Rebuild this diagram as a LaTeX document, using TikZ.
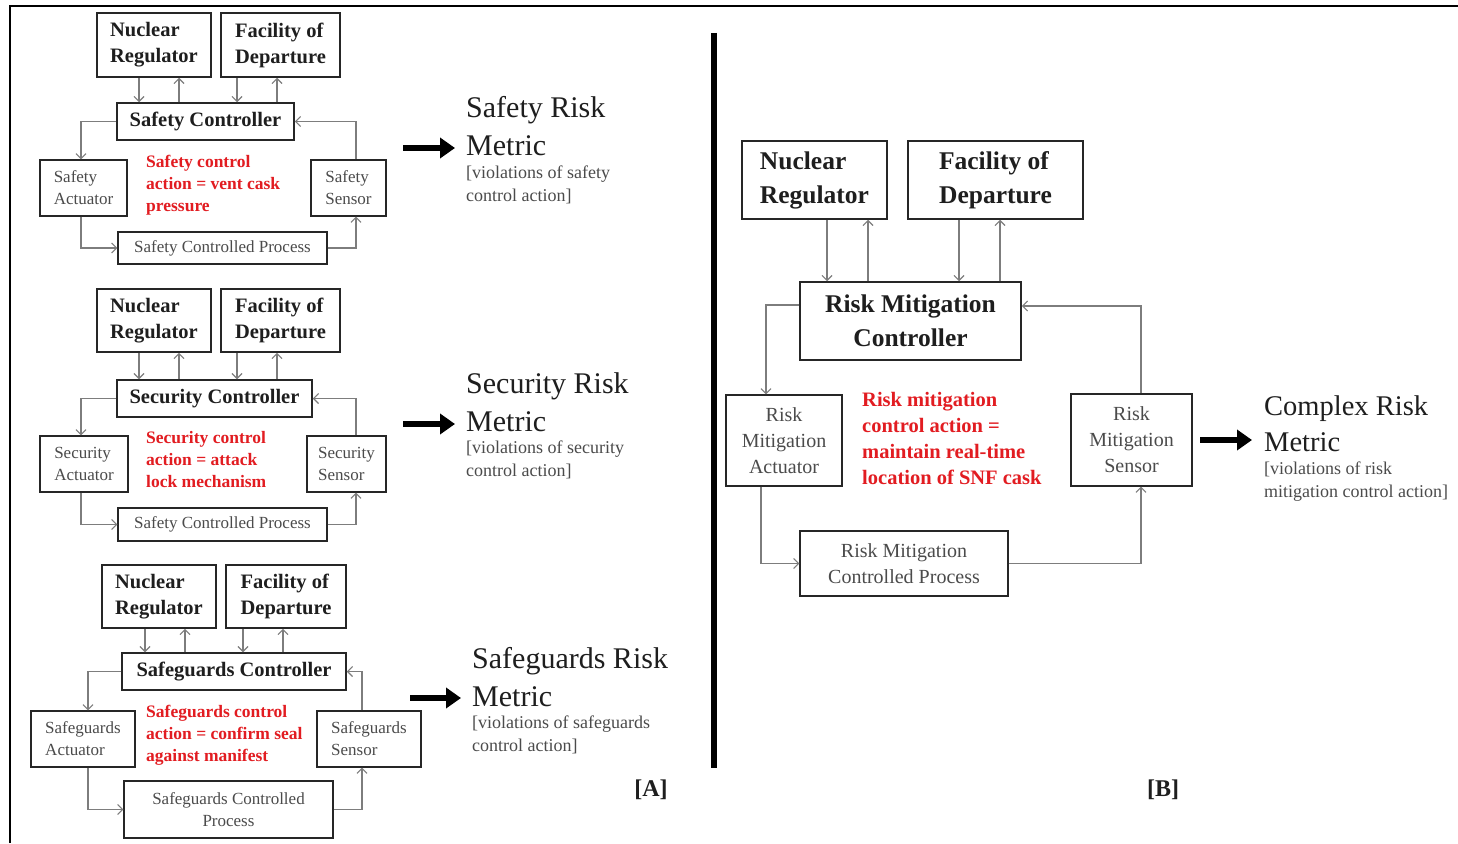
\documentclass[tikz,border=0pt]{standalone}
\usepackage{fontspec}
\setmainfont{Liberation Serif}
\usetikzlibrary{arrows.meta}
\definecolor{redtxt}{RGB}{226,28,33}
\definecolor{conngray}{RGB}{125,125,125}
\definecolor{txtgray}{RGB}{75,75,75}
\definecolor{txtdark}{RGB}{30,30,30}
\begin{document}
\begin{tikzpicture}[x=1pt,y=-1pt,
  box/.style={draw=black!85, line width=1.5pt, inner sep=0pt, align=center, text=txtdark},
  topA/.style={box, align=left, font=\bfseries\fontsize{20.5}{26}\selectfont},
  ctrlA/.style={box, font=\bfseries\fontsize{20.5}{26}\selectfont},
  smallA/.style={box, font=\fontsize{17}{22}\selectfont, text=txtgray, line width=1.3pt},
  topB/.style={box, font=\bfseries\fontsize{25.5}{34}\selectfont},
  smallB/.style={box, font=\fontsize{20}{26}\selectfont, text=txtgray, line width=1.3pt},
  redA/.style={inner sep=0pt, anchor=west, align=left, text=redtxt, font=\bfseries\fontsize{17.5}{22}\selectfont},
  redB/.style={inner sep=0pt, anchor=west, align=left, text=redtxt, font=\bfseries\fontsize{20.5}{26}\selectfont},
  mtitle/.style={inner sep=0pt, anchor=west, align=left, text=txtdark, font=\fontsize{30}{37.5}\selectfont},
  msub/.style={inner sep=0pt, anchor=west, align=left, text=txtgray, font=\fontsize{18}{23}\selectfont},
  conn/.style={draw=conngray, line width=1.1pt, -{Straight Barb[length=5pt,width=10pt]}},
  bigarrow/.style={line width=6pt, -{Triangle[length=15pt,width=20pt]}},
  tag/.style={inner sep=0pt, font=\bfseries\fontsize{24}{28}\selectfont, text=txtdark}
]
\useasboundingbox (0,0) rectangle (1458,843);
\fill[white] (0,0) rectangle (1458,843);
\draw[line width=1.5pt] (10,843) -- (10,6) -- (1458,6);

% ---------------- Panel A, block 1 ----------------
\node[topA, minimum width=114, minimum height=64] (nr1) at (154,45) {Nuclear\\Regulator};
\node[topA, minimum width=119, minimum height=64] (fd1) at (280.5,45) {Facility of\\Departure};
\node[ctrlA, minimum width=177, minimum height=37] (sc1) at (205.5,121.5) {Safety Controller};
\node[smallA, align=left, minimum width=87, minimum height=56] (act1) at (83.5,188) {Safety\\Actuator};
\node[smallA, align=left, minimum width=75, minimum height=56] (sen1) at (348.5,188) {Safety\\Sensor};
\node[smallA, minimum width=209, minimum height=32] (proc1) at (222.5,248) {Safety Controlled Process};
\node[redA] (ca1) at (146,185) {Safety control\\action = vent cask\\pressure};
\path (139,0) coordinate (a11) (179,0) coordinate (a12) (237,0) coordinate (a13) (277,0) coordinate (a14)
      (81,0) coordinate (l1) (356,0) coordinate (r1);
\draw[conn] (nr1.south -| a11) -- (sc1.north -| a11);
\draw[conn] (sc1.north -| a12) -- (nr1.south -| a12);
\draw[conn] (fd1.south -| a13) -- (sc1.north -| a13);
\draw[conn] (sc1.north -| a14) -- (fd1.south -| a14);
\draw[conn] (sc1.west) -| (act1.north -| l1);
\draw[conn] (act1.south -| l1) |- (proc1.west);
\draw[conn] (proc1.east) -| (sen1.south -| r1);
\draw[conn] (sen1.north -| r1) |- (sc1.east);
\node[mtitle] (m1) at (466,126) {Safety Risk\\Metric};
\node[msub] (s1) at (466,184.5) {[violations of safety\\control action]};
\coordinate (b1s) at (403,148); \coordinate (b1e) at (455,148);
\draw[bigarrow] (b1s) -- (b1e);

% ---------------- Panel A, block 2 ----------------
\node[topA, minimum width=114, minimum height=63] (nr2) at (154,320.5) {Nuclear\\Regulator};
\node[topA, minimum width=119, minimum height=63] (fd2) at (280.5,320.5) {Facility of\\Departure};
\node[ctrlA, minimum width=195, minimum height=37] (sc2) at (214.5,398.5) {Security Controller};
\node[smallA, align=left, minimum width=88, minimum height=56] (act2) at (84,464) {Security\\Actuator};
\node[smallA, align=left, minimum width=79, minimum height=56] (sen2) at (346.5,464) {Security\\Sensor};
\node[smallA, minimum width=209, minimum height=33] (proc2) at (222.5,524.5) {Safety Controlled Process};
\node[redA] (ca2) at (146,460) {Security control\\action = attack\\lock mechanism};
\path (139,0) coordinate (a21) (179,0) coordinate (a22) (237,0) coordinate (a23) (277,0) coordinate (a24)
      (81,0) coordinate (l2) (356,0) coordinate (r2);
\draw[conn] (nr2.south -| a21) -- (sc2.north -| a21);
\draw[conn] (sc2.north -| a22) -- (nr2.south -| a22);
\draw[conn] (fd2.south -| a23) -- (sc2.north -| a23);
\draw[conn] (sc2.north -| a24) -- (fd2.south -| a24);
\draw[conn] (sc2.west) -| (act2.north -| l2);
\draw[conn] (act2.south -| l2) |- (proc2.west);
\draw[conn] (proc2.east) -| (sen2.south -| r2);
\draw[conn] (sen2.north -| r2) |- (sc2.east);
\node[mtitle] (m2) at (466,402) {Security Risk\\Metric};
\node[msub] (s2) at (466,460) {[violations of security\\control action]};
\coordinate (b2s) at (403,424); \coordinate (b2e) at (455,424);
\draw[bigarrow] (b2s) -- (b2e);

% ---------------- Panel A, block 3 ----------------
\node[topA, minimum width=114, minimum height=63] (nr3) at (159,596.5) {Nuclear\\Regulator};
\node[topA, minimum width=120, minimum height=63] (fd3) at (286,596.5) {Facility of\\Departure};
\node[ctrlA, minimum width=224, minimum height=37] (sc3) at (234,671.5) {Safeguards Controller};
\node[smallA, align=left, minimum width=104, minimum height=56] (act3) at (83,739) {Safeguards\\Actuator};
\node[smallA, align=left, minimum width=104, minimum height=56] (sen3) at (369,739) {Safeguards\\Sensor};
\node[smallA, minimum width=209, minimum height=57] (proc3) at (228.5,809.5) {Safeguards Controlled\\Process};
\node[redA] (ca3) at (146,735) {Safeguards control\\action = confirm seal\\against manifest};
\path (145,0) coordinate (a31) (185,0) coordinate (a32) (243,0) coordinate (a33) (283,0) coordinate (a34)
      (88,0) coordinate (l3) (362,0) coordinate (r3);
\draw[conn] (nr3.south -| a31) -- (sc3.north -| a31);
\draw[conn] (sc3.north -| a32) -- (nr3.south -| a32);
\draw[conn] (fd3.south -| a33) -- (sc3.north -| a33);
\draw[conn] (sc3.north -| a34) -- (fd3.south -| a34);
\draw[conn] (sc3.west) -| (act3.north -| l3);
\draw[conn] (act3.south -| l3) |- (proc3.west);
\draw[conn] (proc3.east) -| (sen3.south -| r3);
\draw[conn] (sen3.north -| r3) |- (sc3.east);
\node[mtitle] (m3) at (472,677) {Safeguards Risk\\Metric};
\node[msub] (s3) at (472,735) {[violations of safeguards\\control action]};
\coordinate (b3s) at (410,698); \coordinate (b3e) at (461,698);
\draw[bigarrow] (b3s) -- (b3e);

\node[tag] (tA) at (651,790) {[A]};

% ---------------- divider ----------------
\coordinate (d1) at (714,33); \coordinate (d2) at (714,768);
\draw[line width=6pt] (d1) -- (d2);

% ---------------- Panel B ----------------
\node[topB, align=left, minimum width=145, minimum height=78] (nrB) at (814.5,180) {Nuclear\\Regulator};
\node[topB, align=left, minimum width=175, minimum height=78] (fdB) at (995.5,180) {Facility of\\Departure};
\node[topB, minimum width=221, minimum height=78] (rmc) at (910.5,321) {Risk Mitigation\\Controller};
\node[smallB, minimum width=116, minimum height=91] (actB) at (784,440.5) {Risk\\Mitigation\\Actuator};
\node[smallB, minimum width=121, minimum height=92] (senB) at (1131.5,440) {Risk\\Mitigation\\Sensor};
\node[smallB, minimum width=208, minimum height=65] (procB) at (904,563.5) {Risk Mitigation\\Controlled Process};
\node[redB] (caB) at (862,438) {Risk mitigation\\control action =\\maintain real-time\\location of SNF cask};
\path (827,0) coordinate (aB1) (868,0) coordinate (aB2) (959,0) coordinate (aB3) (1000,0) coordinate (aB4)
      (766,305) coordinate (lB1) (761,565) coordinate (lB2) (1141,306) coordinate (rB);
\draw[conn] (nrB.south -| aB1) -- (rmc.north -| aB1);
\draw[conn] (rmc.north -| aB2) -- (nrB.south -| aB2);
\draw[conn] (fdB.south -| aB3) -- (rmc.north -| aB3);
\draw[conn] (rmc.north -| aB4) -- (fdB.south -| aB4);
\draw[conn] (rmc.west |- lB1) -| (actB.north -| lB1);
\draw[conn] (actB.south -| lB2) |- (procB.west);
\draw[conn] (procB.east) -| (senB.south -| rB);
\draw[conn] (senB.north -| rB) |- (rmc.east |- rB);
\node[mtitle, font=\fontsize{28.5}{36}\selectfont] (mB) at (1264,424) {Complex Risk\\Metric};
\node[msub] (sB) at (1264,482) {[violations of risk\\mitigation control action]};
\coordinate (bBs) at (1200,440); \coordinate (bBe) at (1252,440);
\draw[bigarrow] (bBs) -- (bBe);

\node[tag] (tB) at (1163,790) {[B]};
\end{tikzpicture}
\end{document}
